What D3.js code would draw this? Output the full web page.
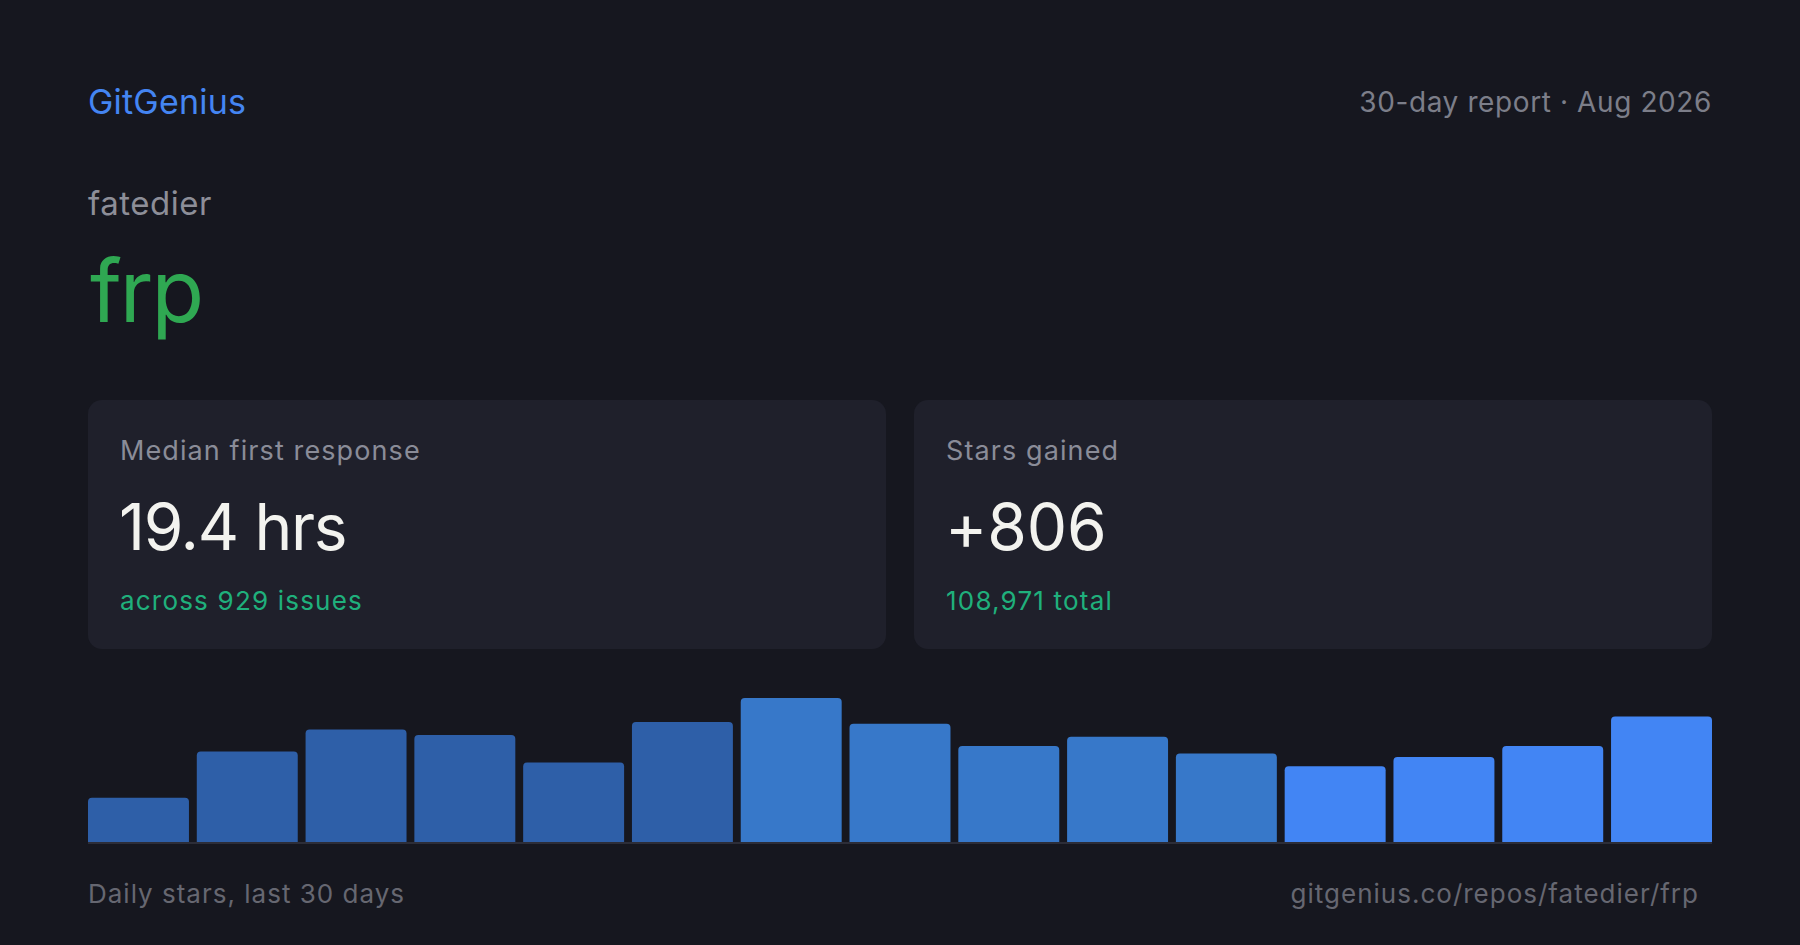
<!DOCTYPE html>
<html>
<head>
<meta charset="utf-8">
<script src="https://cdn.jsdelivr.net/npm/d3@7"></script>
<style>
  html, body { margin: 0; padding: 0; background: #16171f; }
  svg { display: block; }
  text { font-family: Inter, "Noto Sans", sans-serif; }
</style>
</head>
<body>
<script>
// Daily stars, 15 bars covering the last 30 days
const starValues = [24, 49, 61, 58, 43, 65, 78, 64, 52, 57, 48, 41, 46, 52, 68];
// colour band per bar: 0 = oldest, 2 = most recent
const barTone = [0, 0, 0, 0, 0, 0, 1, 1, 1, 1, 1, 2, 2, 2, 2];
const toneColors = ["#2e5fa8", "#3778c9", "#4285f4"];

const cardLabels = ["Median first response", "Stars gained"];
const cardValues = ["19.4 hrs", "+806"];
const cardNotes = ["across 929 issues", "108,971 total"];

const brand = "GitGenius";
const reportLabel = "30-day report \u00b7 Aug 2026";
const owner = "fatedier";
const repo = "frp";
const chartCaption = "Daily stars, last 30 days";
const repoUrl = "gitgenius.co/repos/fatedier/frp";

const width = 1800, height = 945;
const padX = 88;

const svg = d3.select("body").append("svg")
    .attr("width", width)
    .attr("height", height)
    .attr("viewBox", `0 0 ${width} ${height}`);

svg.append("rect")
    .attr("width", width)
    .attr("height", height)
    .attr("fill", "#16171f");

// header
svg.append("text")
    .attr("x", padX).attr("y", 114)
    .attr("font-size", 34)
    .attr("letter-spacing", 0.2)
    .attr("fill", "#4485f2")
    .text(brand);

svg.append("text")
    .attr("x", width - padX).attr("y", 112)
    .attr("text-anchor", "end")
    .attr("font-size", 28)
    .attr("letter-spacing", 0.6)
    .attr("fill", "#7c7e89")
    .text(reportLabel);

svg.append("text")
    .attr("x", padX).attr("y", 215)
    .attr("font-size", 33)
    .attr("letter-spacing", 0.5)
    .attr("fill", "#8d8e98")
    .text(owner);

svg.append("text")
    .attr("x", padX + 2).attr("y", 322)
    .attr("font-size", 86)
    .attr("letter-spacing", -2)
    .attr("fill", "#2fa852")
    .text(repo);

// stat cards
const cardGap = 28;
const cardX = d3.scaleBand()
    .domain(d3.range(cardLabels.length))
    .range([padX, width - padX])
    .paddingInner(cardGap / ((width - 2 * padX + cardGap) / cardLabels.length));

const cards = svg.selectAll("g.card")
    .data(cardLabels)
    .enter().append("g")
    .attr("class", "card")
    .attr("transform", (d, i) => `translate(${cardX(i)}, 400)`);

cards.append("rect")
    .attr("width", cardX.bandwidth())
    .attr("height", 249)
    .attr("rx", 14)
    .attr("fill", "#1f202b");

cards.append("text")
    .attr("x", 32).attr("y", 60)
    .attr("font-size", 27)
    .attr("letter-spacing", 1.1)
    .attr("fill", "#8a8c98")
    .text(d => d);

cards.append("text")
    .attr("x", 31).attr("y", 150)
    .attr("font-size", 64)
    .attr("letter-spacing", (d, i) => i === 0 ? -1.3 : -0.1)
    .attr("fill", "#f3f3ef")
    .text((d, i) => cardValues[i]);

cards.append("text")
    .attr("x", 32).attr("y", 210)
    .attr("font-size", 26)
    .attr("letter-spacing", 1.2)
    .attr("fill", "#1fb07c")
    .text((d, i) => cardNotes[i]);

// bar chart
const chartBottom = 842, chartTop = 698;

const x = d3.scaleBand()
    .domain(d3.range(starValues.length))
    .range([padX, width - padX])
    .paddingInner(0.072);

const y = d3.scaleLinear()
    .domain([0, d3.max(starValues)])
    .range([chartBottom, chartTop]);

function topRounded(x0, y0, w, h, r) {
    r = Math.min(r, h, w / 2);
    return `M${x0},${y0 + h}V${y0 + r}Q${x0},${y0} ${x0 + r},${y0}` +
        `H${x0 + w - r}Q${x0 + w},${y0} ${x0 + w},${y0 + r}V${y0 + h}Z`;
}

svg.append("g")
    .selectAll("path")
    .data(starValues)
    .enter().append("path")
    .attr("d", (d, i) => topRounded(x(i), y(d), x.bandwidth(), chartBottom - y(d), 4))
    .attr("fill", (d, i) => toneColors[barTone[i]]);

svg.append("rect")
    .attr("x", padX)
    .attr("y", chartBottom)
    .attr("width", width - 2 * padX)
    .attr("height", 2)
    .attr("fill", "#2c2d38");

// footer
svg.append("text")
    .attr("x", padX).attr("y", 903)
    .attr("font-size", 26)
    .attr("letter-spacing", 1.0)
    .attr("fill", "#666771")
    .text(chartCaption);

svg.append("text")
    .attr("x", 1699).attr("y", 903)
    .attr("text-anchor", "end")
    .attr("font-size", 26)
    .attr("letter-spacing", 1.0)
    .attr("fill", "#666771")
    .text(repoUrl);
</script>
</body>
</html>
